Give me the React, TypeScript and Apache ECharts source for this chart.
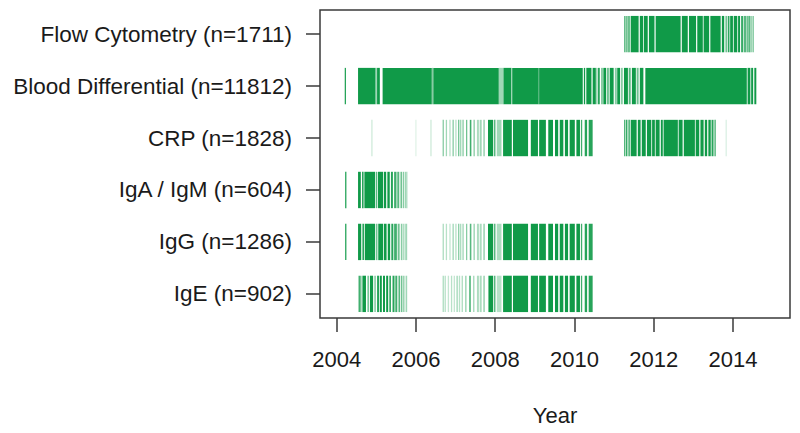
import React, { useEffect, useRef } from "react";
import * as echarts from "echarts";

// Row labels, top to bottom
const categories = [
  "Flow Cytometry (n=1711)",
  "Blood Differential (n=11812)",
  "CRP (n=1828)",
  "IgA / IgM (n=604)",
  "IgG (n=1286)",
  "IgE (n=902)",
];

const xTicks = [2004, 2006, 2008, 2010, 2012, 2014];
const yTicks = [1, 2, 3, 4, 5, 6];

// Each entry: [startYear, endYear, opacity]  (start == end -> a single thin line)
const flowCytometry = [
  [2011.27, 2011.27, 0.7], [2011.31, 2011.31, 0.6], [2011.35, 2011.35, 0.6], [2011.38, 2011.38, 0.8],
  [2011.42, 2011.62, 1], [2011.65, 2011.73, 1], [2011.75, 2011.85, 1], [2011.88, 2012.02, 1],
  [2012.05, 2012.68, 1], [2012.71, 2012.86, 1], [2012.89, 2013.07, 1], [2013.10, 2013.24, 1],
  [2013.26, 2013.40, 1], [2013.43, 2013.69, 1], [2013.72, 2013.78, 1], [2013.81, 2013.86, 0.6],
  [2013.88, 2013.91, 1], [2013.93, 2014.00, 1], [2014.02, 2014.11, 1], [2014.13, 2014.18, 1],
  [2014.21, 2014.25, 1], [2014.27, 2014.34, 0.7], [2014.35, 2014.40, 0.6], [2014.42, 2014.42, 0.7],
  [2014.46, 2014.46, 0.5], [2014.51, 2014.51, 0.6],
];

const bloodDifferential = [
  [2004.22, 2004.22, 0.9],
  [2004.54, 2004.98, 1], [2004.98, 2005.02, 0.4], [2005.02, 2005.09, 1], [2005.16, 2006.40, 1],
  [2006.40, 2006.44, 0.5], [2006.44, 2008.09, 1], [2008.09, 2008.21, 0.4], [2008.21, 2008.41, 1],
  [2008.43, 2009.09, 1], [2009.09, 2009.11, 0.6], [2009.11, 2010.21, 1], [2010.24, 2010.27, 1],
  [2010.30, 2010.43, 1], [2010.46, 2010.54, 1], [2010.56, 2010.56, 0.4], [2010.59, 2010.64, 0.9],
  [2010.67, 2010.72, 0.5], [2010.73, 2010.80, 1], [2010.82, 2010.87, 0.6], [2010.89, 2010.99, 1],
  [2011.02, 2011.07, 0.5], [2011.08, 2011.15, 1], [2011.17, 2011.22, 0.5], [2011.25, 2011.35, 1],
  [2011.37, 2011.42, 0.7], [2011.45, 2011.55, 1], [2011.57, 2011.62, 0.6], [2011.65, 2011.74, 1],
  [2011.79, 2014.35, 1], [2014.37, 2014.44, 1], [2014.46, 2014.51, 1], [2014.54, 2014.59, 1],
];

const crp = [
  [2004.89, 2004.89, 0.2], [2006.00, 2006.00, 0.12], [2006.38, 2006.38, 0.2],
  [2006.69, 2006.69, 0.5], [2006.77, 2006.77, 0.4], [2006.86, 2006.86, 0.3], [2006.94, 2006.94, 0.5],
  [2007.01, 2007.01, 0.3], [2007.08, 2007.08, 0.6], [2007.13, 2007.13, 0.4], [2007.19, 2007.19, 0.5],
  [2007.28, 2007.28, 0.6], [2007.36, 2007.40, 0.8], [2007.47, 2007.47, 0.5], [2007.54, 2007.59, 0.35],
  [2007.61, 2007.66, 0.4], [2007.72, 2007.72, 0.5], [2007.82, 2007.95, 1], [2007.99, 2007.99, 0.8],
  [2008.04, 2008.16, 0.4], [2008.20, 2008.42, 1], [2008.45, 2008.83, 1], [2008.90, 2009.08, 1],
  [2009.11, 2009.28, 1], [2009.34, 2009.46, 1], [2009.51, 2009.59, 1], [2009.63, 2009.72, 1],
  [2009.76, 2009.84, 1], [2009.88, 2010.01, 1], [2010.05, 2010.14, 1], [2010.18, 2010.18, 0.8],
  [2010.26, 2010.32, 0.9], [2010.36, 2010.46, 0.9],
  [2011.27, 2011.27, 0.8], [2011.32, 2011.32, 0.9], [2011.38, 2011.38, 0.9],
  [2011.42, 2011.57, 1], [2011.60, 2011.67, 1], [2011.70, 2011.80, 1], [2011.83, 2011.94, 1],
  [2011.96, 2012.03, 1], [2012.05, 2012.15, 1], [2012.18, 2012.23, 1], [2012.25, 2012.61, 1],
  [2012.63, 2012.73, 1], [2012.76, 2013.04, 1], [2013.06, 2013.15, 1], [2013.18, 2013.26, 1],
  [2013.29, 2013.35, 1], [2013.38, 2013.44, 1], [2013.46, 2013.51, 0.9], [2013.55, 2013.55, 0.8],
  [2013.83, 2013.83, 0.15],
];

const igaIgm = [
  [2004.23, 2004.23, 0.9],
  [2004.54, 2004.61, 1], [2004.64, 2004.68, 0.9], [2004.70, 2004.97, 1], [2004.99, 2005.02, 0.7],
  [2005.04, 2005.17, 1], [2005.19, 2005.25, 1], [2005.28, 2005.34, 1], [2005.37, 2005.42, 0.9],
  [2005.45, 2005.51, 0.8], [2005.53, 2005.58, 0.7], [2005.61, 2005.65, 0.6], [2005.67, 2005.70, 0.5],
  [2005.72, 2005.75, 0.4], [2005.77, 2005.77, 0.35],
];

const igg = [
  [2004.23, 2004.23, 0.9],
  [2004.54, 2004.62, 1], [2004.65, 2004.69, 0.9], [2004.71, 2004.97, 1], [2004.99, 2005.03, 0.6],
  [2005.05, 2005.17, 1], [2005.19, 2005.26, 1], [2005.29, 2005.35, 1], [2005.38, 2005.43, 0.9],
  [2005.45, 2005.52, 0.8], [2005.54, 2005.59, 0.6], [2005.62, 2005.66, 0.5], [2005.68, 2005.71, 0.4],
  [2005.73, 2005.78, 0.4],
  [2006.69, 2006.69, 0.35], [2006.77, 2006.77, 0.3], [2006.86, 2006.86, 0.25], [2006.94, 2006.94, 0.4],
  [2007.01, 2007.01, 0.3], [2007.08, 2007.08, 0.5], [2007.13, 2007.13, 0.35], [2007.19, 2007.19, 0.4],
  [2007.28, 2007.28, 0.5], [2007.36, 2007.40, 0.7], [2007.47, 2007.47, 0.45], [2007.54, 2007.59, 0.35],
  [2007.61, 2007.66, 0.35], [2007.72, 2007.72, 0.5], [2007.82, 2007.95, 1], [2007.99, 2007.99, 0.8],
  [2008.04, 2008.16, 0.35], [2008.20, 2008.42, 1], [2008.45, 2008.83, 1], [2008.90, 2009.08, 1],
  [2009.11, 2009.28, 1], [2009.34, 2009.46, 1], [2009.51, 2009.59, 1], [2009.63, 2009.72, 1],
  [2009.76, 2009.84, 1], [2009.88, 2010.01, 1], [2010.05, 2010.14, 1], [2010.18, 2010.18, 0.8],
  [2010.26, 2010.32, 0.9], [2010.36, 2010.46, 0.9],
];

const ige = [
  [2004.57, 2004.57, 0.9], [2004.61, 2004.61, 0.7], [2004.65, 2004.74, 1], [2004.78, 2004.81, 0.7],
  [2004.84, 2004.92, 1], [2004.95, 2004.99, 0.5], [2005.02, 2005.07, 0.9], [2005.09, 2005.14, 1],
  [2005.17, 2005.22, 1], [2005.25, 2005.30, 1], [2005.33, 2005.37, 0.9], [2005.41, 2005.46, 0.9],
  [2005.48, 2005.53, 0.8], [2005.56, 2005.60, 0.7], [2005.62, 2005.66, 0.6], [2005.68, 2005.71, 0.5],
  [2005.74, 2005.78, 0.4],
  [2006.69, 2006.69, 0.35], [2006.74, 2006.74, 0.3], [2006.82, 2006.82, 0.25], [2006.90, 2006.90, 0.3],
  [2006.97, 2006.97, 0.25], [2007.04, 2007.04, 0.4], [2007.10, 2007.10, 0.3], [2007.17, 2007.17, 0.35],
  [2007.26, 2007.26, 0.45], [2007.34, 2007.39, 0.6], [2007.46, 2007.46, 0.4], [2007.54, 2007.59, 0.35],
  [2007.61, 2007.66, 0.35], [2007.72, 2007.72, 0.5], [2007.83, 2007.95, 1], [2007.99, 2007.99, 0.8],
  [2008.04, 2008.16, 0.3], [2008.20, 2008.42, 1], [2008.45, 2008.83, 1], [2008.90, 2009.08, 1],
  [2009.11, 2009.28, 1], [2009.34, 2009.46, 1], [2009.51, 2009.59, 1], [2009.63, 2009.72, 1],
  [2009.76, 2009.84, 1], [2009.88, 2010.01, 1], [2010.05, 2010.14, 1], [2010.18, 2010.18, 0.8],
  [2010.26, 2010.32, 0.9], [2010.36, 2010.46, 0.9],
];

const rows = [flowCytometry, bloodDifferential, crp, igaIgm, igg, ige];

const GREEN = [16, 154, 72];
const TEXT = "#1a1a1a";
const LINE = "#3a3a3a";
const FONT = "'Liberation Sans', Arial, sans-serif";

export default function App() {
  const ref = useRef<HTMLDivElement>(null);

  useEffect(() => {
    const chart = echarts.init(ref.current as HTMLDivElement, null, { renderer: "svg" });
    const n = categories.length;
    const data: number[][] = [];
    rows.forEach((segs, i) => {
      const y = n - i;
      segs.forEach(([a, b, op]) => data.push([a, b, y, op]));
    });

    const renderItem = (params: any, api: any) => {
      const x0 = api.value(0);
      const x1 = api.value(1);
      const y = api.value(2);
      const op = api.value(3);
      const p0 = api.coord([x0, y + 0.35]);
      const p1 = api.coord([x1, y - 0.35]);
      let x = p0[0];
      let w = p1[0] - p0[0];
      const minW = 1.3;
      if (w < minW) {
        x -= (minW - w) / 2;
        w = minW;
      }
      return {
        type: "rect",
        shape: { x, y: p0[1], width: w, height: p1[1] - p0[1] },
        style: { fill: `rgba(${GREEN[0]},${GREEN[1]},${GREEN[2]},${op})` },
      };
    };

    chart.setOption({
      animation: false,
      backgroundColor: "#ffffff",
      textStyle: { fontFamily: FONT },
      grid: {
        left: 320,
        top: 10,
        width: 470,
        height: 308,
        show: true,
        borderColor: LINE,
        borderWidth: 1.5,
        backgroundColor: "transparent",
      },
      xAxis: {
        type: "value",
        min: 2003.58,
        max: 2015.44,
        splitLine: { show: false },
        axisLine: { show: false },
        axisTick: {
          show: true,
          length: 14,
          customValues: xTicks,
          lineStyle: { color: LINE, width: 1.5 },
        },
        axisLabel: {
          customValues: xTicks,
          fontSize: 22,
          color: TEXT,
          fontFamily: FONT,
          margin: 30,
          formatter: (v: number) => String(Math.round(v)),
        },
        name: "Year",
        nameLocation: "middle",
        nameGap: 86,
        nameTextStyle: { fontSize: 22, color: TEXT, fontFamily: FONT },
      },
      yAxis: {
        type: "value",
        min: 0.536,
        max: 6.464,
        splitLine: { show: false },
        axisLine: { show: false },
        axisTick: {
          show: true,
          length: 14,
          customValues: yTicks,
          lineStyle: { color: LINE, width: 1.5 },
        },
        axisLabel: {
          customValues: yTicks,
          fontSize: 22.5,
          color: TEXT,
          fontFamily: FONT,
          margin: 28,
          formatter: (v: number) => categories[n - Math.round(v)] ?? "",
        },
      },
      series: [
        {
          type: "custom",
          renderItem,
          data,
          encode: { x: [0, 1], y: 2 },
          silent: true,
        },
      ],
    });

    return () => chart.dispose();
  }, []);

  return (
    <div
      ref={ref}
      style={{ position: "fixed", left: 0, top: 0, width: 800, height: 433, background: "#fff" }}
    />
  );
}
